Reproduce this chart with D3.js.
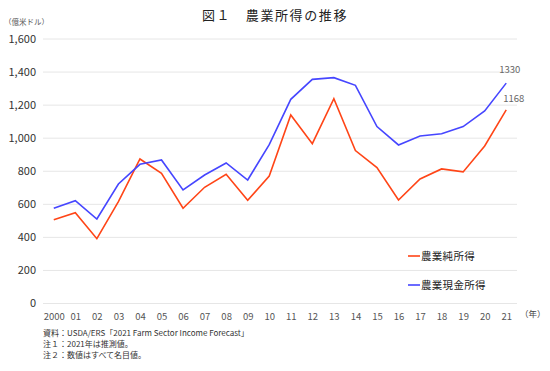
<!DOCTYPE html>
<html>
<head>
<meta charset="utf-8">
<script src="https://cdn.jsdelivr.net/npm/d3@7"></script>
<style>
  body { margin: 0; background: #fff; }
  text { font-family: "Noto Sans CJK JP", "Noto Sans", sans-serif; }
</style>
</head>
<body>
<div id="chart"></div>
<script>
// data (億米ドル)
var years = ["2000","01","02","03","04","05","06","07","08","09","10",
             "11","12","13","14","15","16","17","18","19","20","21"];
var netIncome  = [504, 546, 389, 613, 871, 785, 573, 700, 779, 621, 768,
                  1137, 964, 1236, 922, 819, 623, 750, 811, 793, 950, 1168];
var cashIncome = [573, 619, 508, 720, 839, 865, 684, 774, 847, 744, 958,
                  1232, 1353, 1363, 1317, 1067, 956, 1010, 1024, 1067, 1162, 1330];
var yTicks = [0, 200, 400, 600, 800, 1000, 1200, 1400, 1600];
var seriesNames = ["農業純所得", "農業現金所得"];
var seriesColors = ["#ff4517", "#4646ff"];
var notes = ["資料：USDA/ERS「2021 Farm Sector Income Forecast」",
             "注１：2021年は推測値。",
             "注２：数値はすべて名目値。"];

var width = 550, height = 371;
var margin = {top: 38.5, right: 33, bottom: 68, left: 43};

var svg = d3.select("#chart").append("svg")
    .attr("width", width)
    .attr("height", height);

var x = d3.scalePoint()
    .domain(years)
    .range([margin.left, width - margin.right])
    .padding(0.5);

var y = d3.scaleLinear()
    .domain([0, 1600])
    .range([height - margin.bottom, margin.top]);

// title
svg.append("text")
    .attr("x", 275)
    .attr("y", 20)
    .attr("text-anchor", "middle")
    .attr("font-size", 13)
    .attr("letter-spacing", 1.6)
    .attr("fill", "#222")
    .text("図１　農業所得の推移");

svg.append("text")
    .attr("x", 4)
    .attr("y", 25)
    .attr("font-size", 7.5)
    .attr("fill", "#555")
    .text("（億米ドル）");

// gridlines + y labels
var yAxis = svg.append("g")
    .attr("transform", "translate(" + margin.left + ",0)")
    .call(d3.axisLeft(y)
        .tickValues(yTicks)
        .tickSize(-(width - margin.left - margin.right))
        .tickPadding(7)
        .tickFormat(d3.format(",")));
yAxis.select(".domain").remove();
yAxis.selectAll(".tick line").attr("stroke", "#e6e6e6").attr("stroke-width", 1);
yAxis.selectAll(".tick text")
    .attr("font-size", 11)
    .attr("fill", "#333")
    .style("font-family", "'Noto Sans CJK JP', sans-serif");

// x labels
var xAxis = svg.append("g")
    .attr("transform", "translate(0," + (height - margin.bottom) + ")")
    .call(d3.axisBottom(x).tickSize(0).tickPadding(10));
xAxis.select(".domain").remove();
xAxis.selectAll(".tick text")
    .attr("font-size", 9.5)
    .attr("fill", "#555")
    .style("font-family", "'Noto Sans CJK JP', sans-serif");

svg.append("text")
    .attr("x", 520)
    .attr("y", 317)
    .attr("font-size", 8.5)
    .attr("fill", "#444")
    .text("（年）");

// lines
var line = d3.line()
    .x(function(d, i){ return x(years[i]); })
    .y(function(d){ return y(d); });

[netIncome, cashIncome].forEach(function(s, k){
    svg.append("path")
        .datum(s)
        .attr("fill", "none")
        .attr("stroke", seriesColors[k])
        .attr("stroke-width", 1.6)
        .attr("stroke-linejoin", "miter")
        .attr("d", line);
});

// end labels
var last = years.length - 1;
svg.append("text")
    .attr("x", x(years[last]) - 7)
    .attr("y", y(cashIncome[last]) - 10)
    .attr("font-size", 9.5)
    .attr("fill", "#666")
    .text(cashIncome[last]);
svg.append("text")
    .attr("x", x(years[last]) - 3)
    .attr("y", y(netIncome[last]) - 8)
    .attr("font-size", 9.5)
    .attr("fill", "#666")
    .text(netIncome[last]);

// legend
var legend = svg.append("g").attr("transform", "translate(408,256)");
seriesNames.forEach(function(n, k){
    var g = legend.append("g").attr("transform", "translate(0," + (k * 29) + ")");
    g.append("line")
        .attr("x1", 0).attr("x2", 12)
        .attr("stroke", seriesColors[k])
        .attr("stroke-width", 1.6);
    g.append("text")
        .attr("x", 13)
        .attr("dy", "0.36em")
        .attr("font-size", 10.5)
        .attr("letter-spacing", 0.3)
        .attr("fill", "#222")
        .text(n);
});

// notes
svg.selectAll(".note")
    .data(notes)
    .enter().append("text")
    .attr("class", "note")
    .attr("x", 43)
    .attr("y", function(d, i){ return 336 + i * 11.2; })
    .attr("font-size", 8)
    .attr("fill", "#333")
    .text(function(d){ return d; });
</script>
</body>
</html>
